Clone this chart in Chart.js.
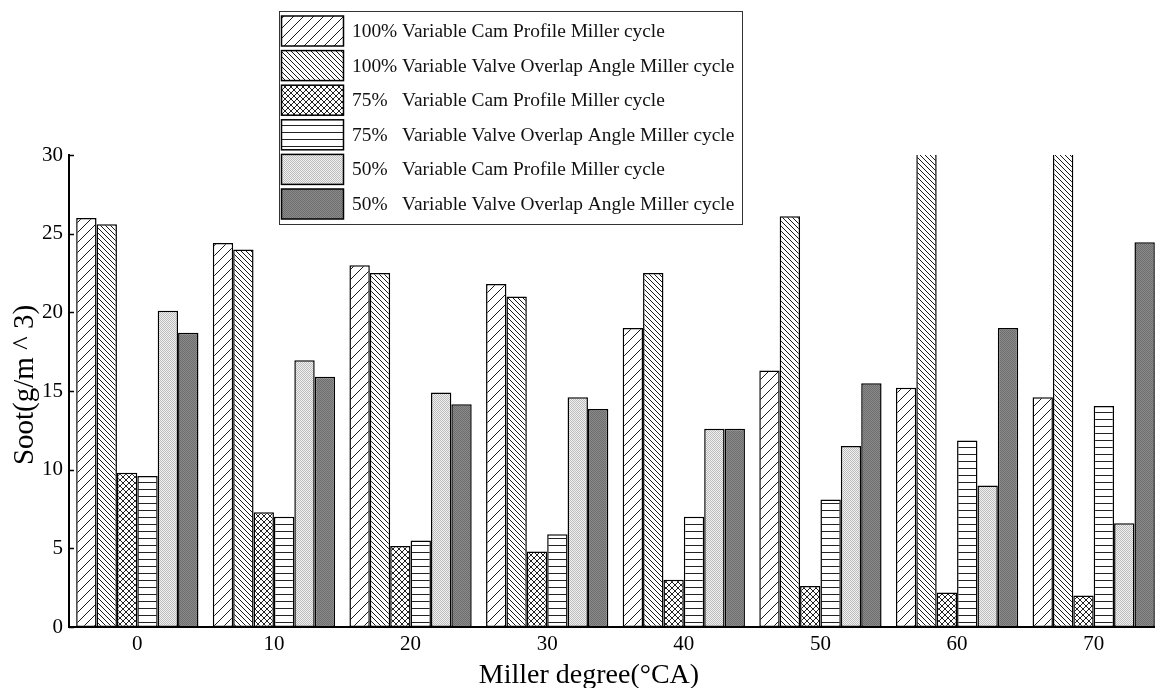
<!DOCTYPE html>
<html>
<head>
<meta charset="utf-8">
<script src="https://cdn.jsdelivr.net/npm/chart.js@4.4.1/dist/chart.umd.min.js"></script>
<style>
html,body{margin:0;padding:0;background:#fff;overflow:hidden;width:1155px;height:688px;}
canvas{display:block;}
</style>
</head>
<body>
<canvas id="c" width="1162" height="688"></canvas>
<script>
// ---- data ----
const categories = ['0','10','20','30','40','50','60','70'];
const seriesNames = [
  '100% Variable Cam Profile Miller cycle',
  '100% Variable Valve Overlap Angle Miller cycle',
  '75%   Variable Cam Profile Miller cycle',
  '75%   Variable Valve Overlap Angle Miller cycle',
  '50%   Variable Cam Profile Miller cycle',
  '50%   Variable Valve Overlap Angle Miller cycle'
];
const cam100   = [26.0, 24.4, 23.0, 21.8, 19.0, 16.3, 15.2, 14.6];
const valve100 = [25.6, 24.0, 22.5, 21.0, 22.5, 26.1, 31.0, 31.0];
const cam75    = [9.8, 7.3, 5.15, 4.8, 3.0, 2.6, 2.2, 2.0];
const valve75  = [9.6, 7.0, 5.5, 5.9, 7.0, 8.1, 11.85, 14.05];
const cam50    = [20.1, 16.95, 14.9, 14.6, 12.6, 11.5, 9.0, 6.6];
const valve50  = [18.7, 15.9, 14.15, 13.85, 12.6, 15.5, 19.0, 24.45];
const yTicks   = [0, 5, 10, 15, 20, 25, 30];
const xTitle = 'Miller degree(°CA)';
const yTitle = 'Soot(g/m ^ 3)';

// ---- patterns ----
const FONT = "'Liberation Serif', 'Times New Roman', serif";
function makeTile(w, h, bg, draw) {
  const c = document.createElement('canvas');
  c.width = w; c.height = h;
  const g = c.getContext('2d');
  g.fillStyle = bg; g.fillRect(0, 0, w, h);
  draw(g, w, h);
  return document.createElement('canvas').getContext('2d').createPattern(c, 'repeat');
}
function diag(g, s, dir, color, lw) {
  g.strokeStyle = color; g.lineWidth = lw;
  for (let k = -1; k <= 1; k++) {
    g.beginPath();
    if (dir > 0) { g.moveTo(k * s, s); g.lineTo(k * s + s, 0); }
    else { g.moveTo(k * s, 0); g.lineTo(k * s + s, s); }
    g.stroke();
  }
}
const pForward = makeTile(10, 10, '#ffffff', (g) => diag(g, 10, 1, '#1a1a1a', 1));
const pBack    = makeTile(5, 5, '#ffffff', (g) => diag(g, 5, -1, '#1a1a1a', 1));
const pCross   = makeTile(6, 6, '#ffffff', (g) => { diag(g, 6, 1, '#222', 1); diag(g, 6, -1, '#222', 1); });
const pHoriz   = makeTile(7, 7, '#ffffff', (g) => { g.fillStyle = '#222'; g.fillRect(0, 6, 7, 1); });
const pLight   = makeTile(2, 2, '#f0f0f0', (g) => { g.fillStyle = '#bdbdbd'; g.fillRect(0, 0, 1, 1); g.fillRect(1, 1, 1, 1); });
const pDark    = makeTile(2, 2, '#8a8a8a', (g) => { g.fillStyle = '#6e6e6e'; g.fillRect(0, 0, 1, 1); g.fillRect(1, 1, 1, 1); });

const values = [cam100, valve100, cam75, valve75, cam50, valve50];
const fills = [pForward, pBack, pCross, pHoriz, pLight, pDark];

const datasets = values.map((v, i) => ({
  label: seriesNames[i],
  data: v,
  backgroundColor: fills[i],
  borderColor: '#000',
  borderWidth: 1.5,
  borderSkipped: false,
  barPercentage: 1.0,
  categoryPercentage: 0.895,
  clip: 0
}));

// ---- plugins ----
const decor = {
  id: 'decor',
  afterDraw(chart) {
    const ctx = chart.ctx;
    const ys = chart.scales.y;
    const area = chart.chartArea;
    ctx.save();
    // inward y ticks
    ctx.strokeStyle = '#000'; ctx.lineWidth = 1.5;
    yTicks.forEach(t => {
      const y = Math.round(ys.getPixelForValue(t)) + 0.5;
      ctx.beginPath(); ctx.moveTo(area.left, y); ctx.lineTo(area.left + 5, y); ctx.stroke();
    });
    // axis titles
    ctx.fillStyle = '#000';
    ctx.font = '28px ' + FONT;
    ctx.textAlign = 'center'; ctx.textBaseline = 'alphabetic';
    ctx.fillText(xTitle, 589, 683);
    ctx.translate(33, 385);
    ctx.rotate(-Math.PI / 2);
    ctx.font = '29px ' + FONT;
    ctx.fillText(yTitle, 0, 0);
    ctx.restore();

    // legend
    ctx.save();
    const lx = 279.5, ly = 11.5, lw = 463, lh = 213;
    ctx.fillStyle = '#fff';
    ctx.fillRect(lx, ly, lw, lh);
    ctx.strokeStyle = '#333'; ctx.lineWidth = 1;
    ctx.strokeRect(lx, ly, lw, lh);
    ctx.font = '19.4px ' + FONT;
    ctx.textAlign = 'left'; ctx.textBaseline = 'middle';
    chart.data.datasets.forEach((ds, i) => {
      const top = 16 + i * 34.6;
      ctx.fillStyle = ds.backgroundColor;
      ctx.fillRect(281.5, top, 62, 30);
      ctx.strokeStyle = '#000'; ctx.lineWidth = 1.5;
      ctx.strokeRect(281.5, top, 62, 30);
      ctx.fillStyle = '#111';
      ctx.fillText(ds.label, 352, top + 16);
    });
    ctx.restore();
  }
};

Chart.defaults.font.family = FONT;
Chart.defaults.color = '#000';

new Chart(document.getElementById('c'), {
  type: 'bar',
  data: { labels: categories, datasets },
  options: {
    responsive: false,
    animation: false,
    devicePixelRatio: 1,
    layout: { padding: { top: 155, right: 0, bottom: 0, left: 0 } },
    plugins: { legend: { display: false }, tooltip: { enabled: false } },
    scales: {
      x: {
        type: 'category',
        offset: true,
        grid: { display: false, drawTicks: false },
        border: { display: true, color: '#000', width: 2 },
        ticks: { font: { size: 21 }, color: '#000', padding: 5, maxRotation: 0 },
        afterFit(s) { s.height = 61; }
      },
      y: {
        min: 0, max: 30,
        grid: { display: false, drawTicks: false },
        border: { display: true, color: '#000', width: 2 },
        ticks: { stepSize: 5, font: { size: 21 }, color: '#000', padding: 6 },
        afterFit(s) { s.width = 69; }
      }
    }
  },
  plugins: [decor]
});
</script>
</body>
</html>
